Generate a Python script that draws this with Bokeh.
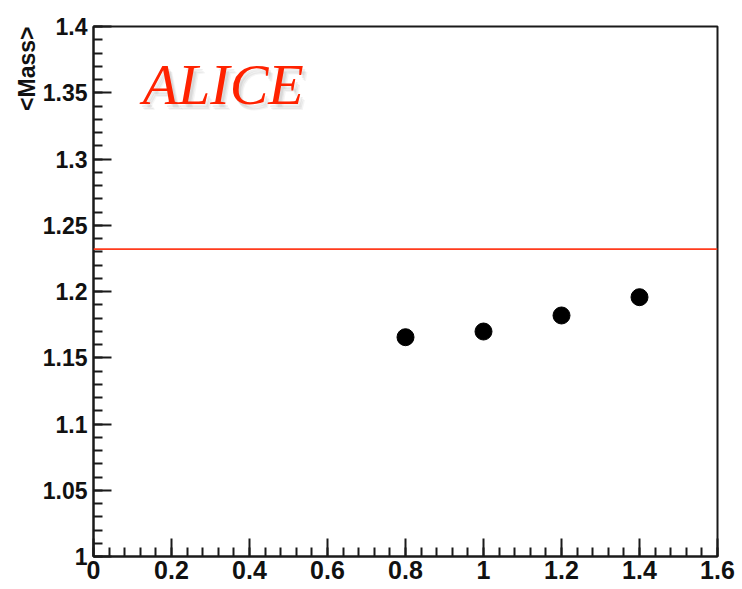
import math
from bokeh.plotting import figure
from bokeh.models import FixedTicker, CustomJSTickFormatter, Span, Label, ColumnDataSource, Title
from bokeh.embed import file_html
from bokeh.resources import INLINE

# ---- data ----
momentum = [0.8, 1.0, 1.2, 1.4]
mean_mass = [1.1655, 1.1698, 1.1819, 1.1957]
reference_mass = 1.232
x_ticks = [0, 0.2, 0.4, 0.6, 0.8, 1.0, 1.2, 1.4, 1.6]
y_ticks = [1.0, 1.05, 1.1, 1.15, 1.2, 1.25, 1.3, 1.35, 1.4]
x_minor = [round(i * 0.04, 4) for i in range(41)]
y_minor = [round(1 + i * 0.01, 4) for i in range(41)]
y_title = "<Mass>"
logo_text = "ALICE"

p = figure(width=742, height=589, x_range=(0, 1.6), y_range=(1, 1.4),
           output_backend="svg", toolbar_location=None,
           min_border_left=93, min_border_right=25, min_border_top=26, min_border_bottom=33)
p.background_fill_color = "white"
p.border_fill_color = "white"
p.xgrid.visible = False
p.ygrid.visible = False
p.outline_line_color = "#1a1a1a"
p.outline_line_width = 2

fmt = CustomJSTickFormatter(code="return tick.toFixed(2).replace(/0+$/,'').replace(/\\.$/,'');")

p.xaxis.ticker = FixedTicker(ticks=x_ticks, minor_ticks=x_minor)
p.yaxis.ticker = FixedTicker(ticks=y_ticks, minor_ticks=y_minor)
for ax in (p.xaxis[0], p.yaxis[0]):
    ax.formatter = fmt
    ax.major_tick_in = 18
    ax.major_tick_out = 0
    ax.minor_tick_in = 9
    ax.minor_tick_out = 0
    ax.axis_line_width = 2
    ax.axis_line_color = "#1a1a1a"
    ax.major_tick_line_color = "#1a1a1a"
    ax.minor_tick_line_color = "#1a1a1a"
    ax.major_tick_line_width = 2
    ax.minor_tick_line_width = 2
    ax.major_label_text_font = "Liberation Sans"
    ax.major_label_text_font_style = "bold"
    ax.major_label_text_color = "#111111"

p.xaxis.major_label_text_font_size = "25px"
p.xaxis.major_label_standoff = 4
p.yaxis.major_label_text_font_size = "23px"
p.yaxis.major_label_standoff = 6

# y-axis title, ROOT-style at the top end of the axis
p.add_layout(Title(text=y_title, align="right", text_font="Liberation Sans",
                   text_font_style="bold", text_font_size="23px",
                   text_color="#111111", standoff=0, offset=0), "left")

# reference line
p.add_layout(Span(location=reference_mass, dimension="width",
                  line_color="#ff3b1d", line_width=1.8))

# data points
src = ColumnDataSource(dict(x=momentum, y=mean_mass))
p.scatter("x", "y", source=src, size=17, color="black")

# ALICE logo with soft shadow
lx, ly = 0.126, 1.356
for dx, dy, a in [(0.006, -0.0022, 0.10), (0.009, -0.0032, 0.08), (0.012, -0.0042, 0.06)]:
    p.add_layout(Label(x=lx + dx, y=ly + dy, text=logo_text,
                       text_font="Liberation Serif", text_font_style="italic",
                       text_font_size="58px", text_color="#555555", text_alpha=a,
                       text_baseline="alphabetic"))
p.add_layout(Label(x=lx, y=ly, text=logo_text,
                   text_font="Liberation Serif", text_font_style="italic",
                   text_font_size="58px", text_color="#ff2200",
                   text_baseline="alphabetic"))

open("out.html", "w").write(file_html(p, INLINE))
